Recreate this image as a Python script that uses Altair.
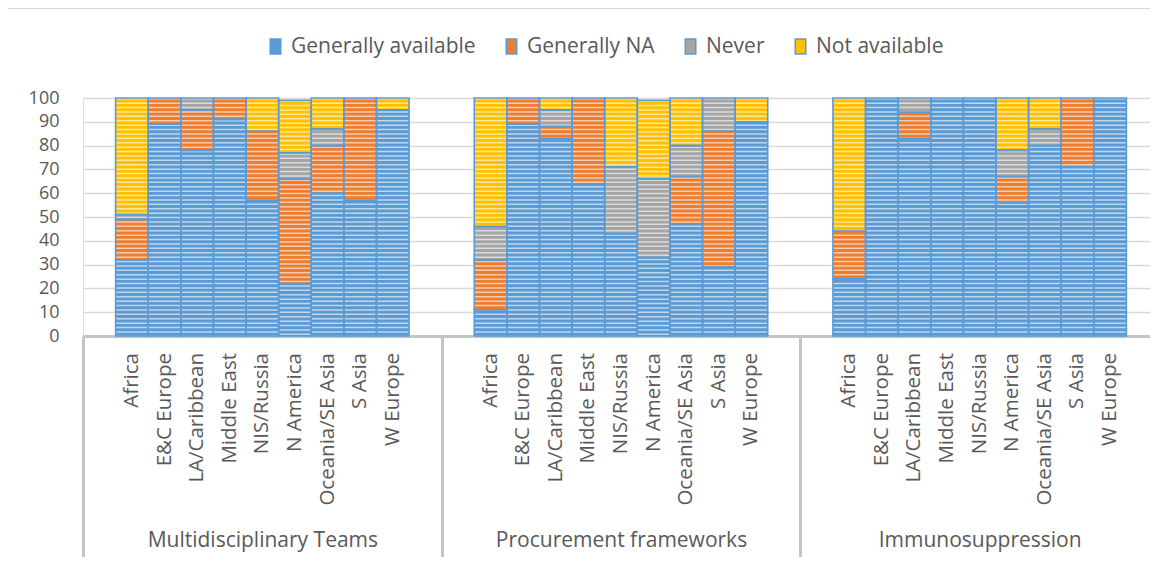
import altair as alt
import pandas as pd

groups = ["Multidisciplinary Teams", "Procurement frameworks", "Immunosuppression"]
regions = ["Africa", "E&C Europe", "LA/Caribbean", "Middle East", "NIS/Russia",
           "N America", "Oceania/SE Asia", "S Asia", "W Europe"]
series = ["Generally available", "Generally NA", "Never", "Not available"]
colors = ["#5B9BD5", "#ED7D31", "#A5A5A5", "#FFC000"]
y_ticks = [0, 10, 20, 30, 40, 50, 60, 70, 80, 90, 100]

# Multidisciplinary Teams
md_generally_available = [32, 89, 78, 91, 57, 22, 60, 57, 95]
md_generally_na = [17, 11, 17, 9, 29, 44, 20, 43, 0]
md_never = [2, 0, 5, 0, 0, 11, 7, 0, 0]
md_not_available = [49, 0, 0, 0, 14, 22, 13, 0, 5]

# Procurement frameworks
pf_generally_available = [11, 89, 83, 64, 43, 33, 47, 29, 90]
pf_generally_na = [21, 11, 5, 36, 0, 0, 20, 57, 0]
pf_never = [14, 0, 7, 0, 28, 33, 13, 14, 0]
pf_not_available = [54, 0, 5, 0, 29, 33, 20, 0, 10]

# Immunosuppression
im_generally_available = [24, 100, 83, 100, 100, 56, 80, 71, 100]
im_generally_na = [20, 0, 11, 0, 0, 11, 0, 29, 0]
im_never = [0, 0, 6, 0, 0, 11, 7, 0, 0]
im_not_available = [56, 0, 0, 0, 0, 22, 13, 0, 0]

table = {
    groups[0]: [md_generally_available, md_generally_na, md_never, md_not_available],
    groups[1]: [pf_generally_available, pf_generally_na, pf_never, pf_not_available],
    groups[2]: [im_generally_available, im_generally_na, im_never, im_not_available],
}

rows = []
for g in groups:
    for si, s in enumerate(series):
        for ri, r in enumerate(regions):
            v = table[g][si][ri]
            if v > 0:
                rows.append({"group": g, "region": r, "series": s, "order": si, "value": v})
df = pd.DataFrame(rows)
labels_df = pd.DataFrame([{"group": g, "region": r} for g in groups for r in regions])

W, H = 1076, 238
FONT = "Open Sans"
TXT = "#595959"

x_axis = alt.Axis(title=None, labelAngle=0, labelFontSize=21, labelColor=TXT,
                  labelPadding=-28, tickBand="extent", tickSize=221, tickWidth=3,
                  tickColor="#c4c4c4", domainColor="#c4c4c4", domainWidth=3,
                  labelFont=FONT, labelLimit=0)
y_axis = alt.Axis(title=None, values=y_ticks, grid=True, labelOverlap=False,
                  gridColor="#d9d9d9", gridWidth=1.5, domain=False, ticks=False,
                  labelPadding=24, labelFontSize=18, labelColor=TXT, labelFont=FONT)
x_scale = alt.Scale(domain=groups, paddingInner=0, paddingOuter=0)
xo_scale = alt.Scale(domain=regions, paddingInner=0, paddingOuter=1)
y_scale = alt.Scale(domain=[0, 100], nice=False)

x_enc = alt.X("group:N", sort=groups, scale=x_scale, axis=x_axis)
xo_enc = alt.XOffset("region:N", sort=regions, scale=xo_scale)

bars = alt.Chart(df).mark_bar(strokeWidth=0).encode(
    x=x_enc, xOffset=xo_enc,
    y=alt.Y("value:Q", stack="zero", scale=y_scale, axis=y_axis),
    color=alt.Color("series:N", sort=series,
                    scale=alt.Scale(domain=series, range=colors),
                    legend=alt.Legend(title=None, orient="none", direction="horizontal",
                                      legendX=182, legendY=-62, labelFontSize=21,
                                      labelColor=TXT, labelFont=FONT, columnPadding=25,
                                      labelOffset=5, symbolSize=225, labelLimit=0,
                                      symbolType="M-0.7,-1H0.7V1H-0.7Z",
                                      symbolStrokeColor="#5B9BD5", symbolStrokeWidth=1.5)),
    order=alt.Order("order:Q"),
)

stripes = alt.Chart(df).transform_aggregate(
    total="sum(value)", groupby=["group", "region"]
).mark_rule(color="white", opacity=0.6, strokeWidth=32, strokeDash=[1.5, 2.9]).encode(
    x=x_enc, xOffset=xo_enc,
    y=alt.Y("total:Q", scale=y_scale, axis=y_axis), y2=alt.datum(0),
)

outlines = alt.Chart(df).mark_bar(fillOpacity=0, stroke="#5B9BD5", strokeWidth=1.6).encode(
    x=x_enc, xOffset=xo_enc,
    y=alt.Y("value:Q", stack="zero", scale=y_scale, axis=y_axis),
    order=alt.Order("order:Q"),
    detail="series:N",
)

region_labels = alt.Chart(labels_df).mark_text(
    angle=270, align="right", baseline="middle", fontSize=20.5, color=TXT, font=FONT
).encode(
    x=x_enc, xOffset=xo_enc,
    y=alt.value(255), text="region:N",
)

frame_left = alt.Chart(labels_df).mark_rule(color="#d9d9d9", strokeWidth=1).encode(
    x=alt.value(-75.5), y=alt.value(-90), y2=alt.value(H + 230))
frame_top = alt.Chart(labels_df).mark_rule(color="#d9d9d9", strokeWidth=1).encode(
    x=alt.value(-75), x2=alt.value(W + 10), y=alt.value(-89.5))

chart = alt.layer(bars, stripes, outlines, region_labels, frame_left, frame_top).properties(
    width=W, height=H,
    autosize=alt.AutoSizeParams(type="none"),
    padding={"left": 75, "top": 90, "right": -9, "bottom": 221},
).configure_view(stroke=None).configure(font=FONT)

chart.save("out.html", embed_options={"renderer": "svg", "actions": False})
